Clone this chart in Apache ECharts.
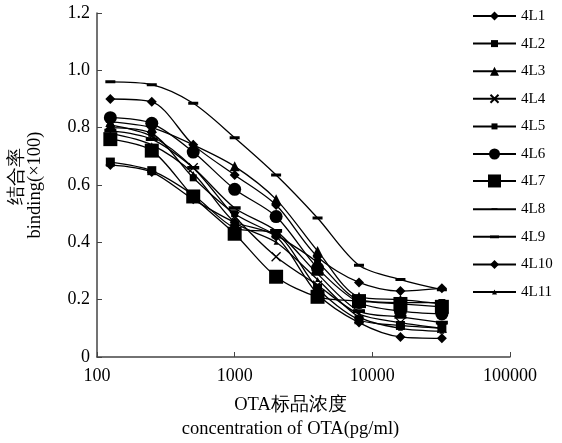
<!DOCTYPE html>
<html>
<head>
<meta charset="utf-8">
<script src="https://cdn.jsdelivr.net/npm/echarts@6/dist/echarts.min.js"></script>
<style>html,body{margin:0;padding:0;background:#fff}#c{width:562px;height:443px}</style>
</head>
<body>
<div id="c"></div>
<script>
const concentrations = [125, 250, 500, 1000, 2000, 4000, 8000, 16000, 32000];
const xTicks = [100, 1000, 10000, 100000];
const yTicks = [0, 0.2, 0.4, 0.6, 0.8, 1.0, 1.2];
const seriesNames = ['4L1','4L2','4L3','4L4','4L5','4L6','4L7','4L8','4L9','4L10','4L11'];
const s4L1  = [0.67, 0.645, 0.55, 0.47, 0.42, 0.22, 0.12, 0.07, 0.065];
const s4L2  = [0.68, 0.65, 0.565, 0.45, 0.43, 0.24, 0.13, 0.11, 0.10];
const s4L3  = [0.82, 0.80, 0.74, 0.665, 0.55, 0.37, 0.21, 0.20, 0.185];
const s4L4  = [0.81, 0.77, 0.66, 0.49, 0.35, 0.25, 0.15, 0.12, 0.10];
const s4L5  = [0.80, 0.78, 0.625, 0.50, 0.425, 0.33, 0.20, 0.19, 0.19];
const s4L6  = [0.835, 0.815, 0.715, 0.585, 0.49, 0.31, 0.19, 0.16, 0.15];
const s4L7  = [0.76, 0.72, 0.56, 0.43, 0.28, 0.21, 0.195, 0.185, 0.175];
const s4L8  = [0.96, 0.95, 0.885, 0.765, 0.635, 0.485, 0.32, 0.27, 0.235];
const s4L9  = [0.79, 0.76, 0.66, 0.52, 0.44, 0.29, 0.16, 0.14, 0.12];
const s4L10 = [0.90, 0.89, 0.74, 0.635, 0.53, 0.35, 0.26, 0.23, 0.24];
const s4L11 = [0.78, 0.74, 0.64, 0.47, 0.40, 0.27, 0.14, 0.10, 0.09];
const seriesValues = [s4L1, s4L2, s4L3, s4L4, s4L5, s4L6, s4L7, s4L8, s4L9, s4L10, s4L11];

const dashPath = 'path://M0,0L0,0ZM0,3.5H10V6.5H0ZM10,10L10,10Z';
const symbolDefs = [
  {symbol:'diamond', size:10, legend:9},
  {symbol:'rect', size:9, legend:7},
  {symbol:'triangle', size:10, legend:9},
  {symbol:'path://M0,0L10,10M10,0L0,10', size:9, legend:8, stroke:true},
  {symbol:'rect', size:7, legend:6},
  {symbol:'circle', size:13, legend:11},
  {symbol:'rect', size:14, legend:13},
  {symbol:dashPath, size:10, legend:6},
  {symbol:dashPath, size:12, legend:9},
  {symbol:'diamond', size:10, legend:9},
  {symbol:'triangle', size:5, legend:5}
];

const font = '"Liberation Serif", "Times New Roman", serif';
const chart = echarts.init(document.getElementById('c'), null, {renderer:'canvas'});
const series = seriesNames.map((name, i) => {
  const d = symbolDefs[i];
  return {
    name: name,
    type: 'line',
    smooth: 0.3,
    data: concentrations.map((c, j) => [c, seriesValues[i][j]]),
    symbol: d.symbol,
    symbolSize: d.size,
    showSymbol: true,
    lineStyle: {color:'#000', width:1.3},
    itemStyle: d.stroke ? {color:'#000', borderColor:'#000', borderWidth:1.3} : {color:'#000', borderWidth:0},
    emphasis: {disabled:true},
    animation: false
  };
});

const legendFont = 15;
const legends = seriesNames.map((name, i) => {
  const ih = symbolDefs[i].legend / 0.8;
  const center = 16 + 27.6 * i;
  return {
    orient:'vertical', left:472, top: center - Math.max(ih, legendFont) / 2,
    padding:0, itemWidth:43, itemHeight:ih,
    selectedMode:false,
    textStyle:{fontFamily:font, fontSize:legendFont, color:'#000'},
    data:[name]
  };
});

chart.setOption({
  animation: false,
  backgroundColor: '#fff',
  grid: {left:97, right:52, top:13, bottom:86, containLabel:false, outerBoundsMode:'none'},
  legend: legends,
  xAxis: {
    type:'log', logBase:10, min:xTicks[0], max:xTicks[xTicks.length-1],
    axisLine:{lineStyle:{color:'#444', width:1.5}},
    axisTick:{inside:true, length:5, lineStyle:{color:'#444'}},
    splitLine:{show:false},
    minorTick:{show:false},
    axisLabel:{fontFamily:font, fontSize:18, color:'#000', margin:10, formatter: v => String(v)},
    name:'OTA标品浓度\nconcentration of OTA(pg/ml)',
    nameLocation:'middle', nameGap:36,
    nameTextStyle:{fontFamily:font, fontSize:18.5, color:'#000', lineHeight:24, padding:[0,26,0,0]}
  },
  yAxis: {
    type:'value', min:yTicks[0], max:yTicks[yTicks.length-1], interval:0.2,
    axisLine:{show:true, lineStyle:{color:'#444', width:1.5}},
    axisTick:{show:true, inside:true, length:5, lineStyle:{color:'#444'}},
    splitLine:{show:false},
    axisLabel:{fontFamily:font, fontSize:18, color:'#000', margin:7,
      formatter: v => v === 0 ? '0' : v.toFixed(1)},
    name:'{a|结合率}\n{b|binding(×100)}',
    nameLocation:'middle', nameGap:53, nameRotate:90,
    nameTextStyle:{fontFamily:font, fontSize:18.5, color:'#000', lineHeight:18,
      rich:{
        a:{fontFamily:font, fontSize:18.5, color:'#000', lineHeight:18, padding:[0,0,0,17]},
        b:{fontFamily:font, fontSize:18.5, color:'#000', lineHeight:18}
      }}
  },
  series: series
});
</script>
</body>
</html>
